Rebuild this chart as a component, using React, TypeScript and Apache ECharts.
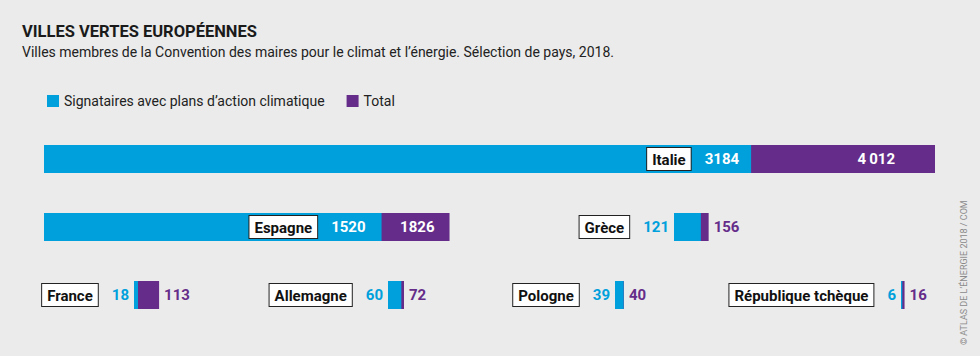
import React, { useEffect, useRef } from "react";
import * as echarts from "echarts";

const countries = ["Italie", "Espagne", "Grèce", "France", "Allemagne", "Pologne", "République tchèque"];
const signataires = [3184, 1520, 121, 18, 60, 39, 6];
const totals = [4012, 1826, 156, 113, 72, 40, 16];
const totalLabels = ["4\u2009012", "1826", "156", "113", "72", "40", "16"];

// layout (pixel positions of each country's bar), not data
const gridLeft = [44, 44, 674, 134, 388, 615, 901];
const gridTop = [145, 213, 213, 281, 281, 281, 281];
const inside = [true, true, false, false, false, false, false];
const totalInsideDist = [40, 15, 0, 0, 0, 0, 0];
const insideCyanDist = [12, 16, 0, 0, 0, 0, 0];

const SCALE_MAX = 4012;
const FULL_WIDTH = 891;
const CYAN = "#00a0dc";
const PURPLE = "#652d89";
const FONT = "Roboto, 'Noto Sans', sans-serif";
const NAME_S = "Signataires avec plans d\u2019action climatique";
const NAME_T = "Total";

export default function App() {
  const ref = useRef<HTMLDivElement>(null);
  useEffect(() => {
    const chart = echarts.init(ref.current!, null, { renderer: "svg" });
    const grids: any[] = [];
    const xAxes: any[] = [];
    const yAxes: any[] = [];
    const series: any[] = [];
    countries.forEach((c, i) => {
      // same pixels-per-unit scale for every country
      const w = (FULL_WIDTH * totals[i]) / SCALE_MAX;
      grids.push({ left: gridLeft[i], top: gridTop[i], width: w, height: 28, containLabel: false });
      xAxes.push({ type: "value", gridIndex: i, min: 0, max: totals[i], show: false });
      yAxes.push({ type: "category", gridIndex: i, data: [c], show: false });
      const rich = {
        box: {
          fontFamily: FONT, fontWeight: "bold", fontSize: 15, color: "#111",
          backgroundColor: "#fff", borderColor: "#222", borderWidth: 1,
          padding: [4, 5, 3, 5],
        },
        w: { fontFamily: FONT, fontWeight: "bold", fontSize: 15, color: "#fff", padding: [0, 0, 0, 14] },
        c: { fontFamily: FONT, fontWeight: "bold", fontSize: 15, color: CYAN, padding: [0, 0, 0, 14] },
      };
      series.push({
        type: "bar", name: NAME_T, xAxisIndex: i, yAxisIndex: i, barWidth: 28,
        itemStyle: { color: PURPLE }, data: [totals[i]],
        label: {
          show: true,
          position: inside[i] ? "insideRight" : "right",
          distance: inside[i] ? totalInsideDist[i] : 5,
          formatter: () => totalLabels[i],
          fontFamily: FONT, fontWeight: "bold", fontSize: 15,
          color: inside[i] ? "#fff" : PURPLE,
        },
      });
      series.push({
        type: "bar", name: NAME_S, xAxisIndex: i, yAxisIndex: i, barWidth: 28, barGap: "-100%",
        itemStyle: { color: CYAN }, data: [signataires[i]],
        label: {
          show: true,
          position: inside[i] ? "insideRight" : "left",
          distance: inside[i] ? insideCyanDist[i] : 5,
          formatter: () => `{box|${c}}{${inside[i] ? "w" : "c"}|${signataires[i]}}`,
          rich,
        },
      });
    });
    chart.setOption({
      animation: false,
      backgroundColor: "#ebebeb",
      title: {
        left: 22, top: 23, padding: 0, itemGap: 5,
        text: "VILLES VERTES EUROPÉENNES",
        subtext: "Villes membres de la Convention des maires pour le climat et l\u2019énergie. Sélection de pays, 2018.",
        textStyle: { fontFamily: FONT, fontWeight: "bold", fontSize: 16.5, color: "#1a1a1a" },
        subtextStyle: { fontFamily: FONT, fontSize: 14, color: "#222" },
      },
      legend: {
        left: 47, top: 94, padding: 0, itemWidth: 12, itemHeight: 12, itemGap: 22,
        icon: "rect",
        data: [NAME_S, NAME_T],
        textStyle: { fontFamily: FONT, fontSize: 14, color: "#222" },
        selectedMode: false,
      },
      grid: grids,
      xAxis: xAxes,
      yAxis: yAxes,
      series,
      graphic: [
        {
          type: "text", x: 968, y: 345, rotation: Math.PI / 2,
          style: {
            text: "© ATLAS DE L\u2019ÉNERGIE 2018 / COM", fontFamily: FONT, fontSize: 9,
            fill: "#8a8a8a", textAlign: "left", textVerticalAlign: "bottom",
          },
        },
      ],
    });
    return () => chart.dispose();
  }, []);
  return <div ref={ref} style={{ width: 980, height: 356, position: "absolute", left: 0, top: 0 }} />;
}
